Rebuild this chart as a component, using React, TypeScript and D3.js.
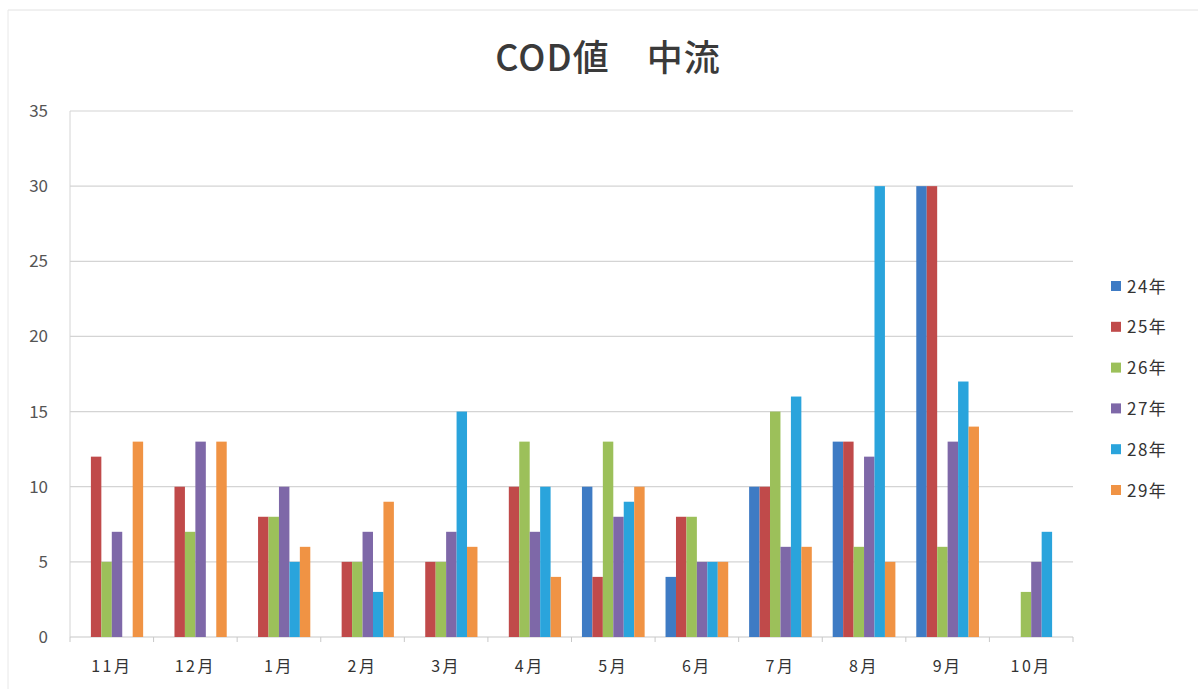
import React from "react";
import * as d3 from "d3";

const months = ["11月", "12月", "1月", "2月", "3月", "4月", "5月", "6月", "7月", "8月", "9月", "10月"];
const seriesNames = ["24年", "25年", "26年", "27年", "28年", "29年"];
const s24 = [0, 0, 0, 0, 0, 0, 10, 4, 10, 13, 30, 0];
const s25 = [12, 10, 8, 5, 5, 10, 4, 8, 10, 13, 30, 0];
const s26 = [5, 7, 8, 5, 5, 13, 13, 8, 15, 6, 6, 3];
const s27 = [7, 13, 10, 7, 7, 7, 8, 5, 6, 12, 13, 5];
const s28 = [0, 0, 5, 3, 15, 10, 9, 5, 16, 30, 17, 7];
const s29 = [13, 13, 6, 9, 6, 4, 10, 5, 6, 5, 14, 0];
const yTicks = [0, 5, 10, 15, 20, 25, 30, 35];
const colors = ["#3e7bc4", "#c04a4a", "#9cc05a", "#7e68a8", "#2aa4dc", "#f09344"];

const allSeries = [s24, s25, s26, s27, s28, s29];

export default function App() {
  const W = 1198, H = 689;
  const left = 70, right = 1073, top = 111, bottom = 637;
  const x0 = d3.scaleBand<string>().domain(months).range([left, right]).paddingInner(0).paddingOuter(0);
  const x1 = d3.scaleBand<string>().domain(seriesNames).range([0, x0.bandwidth()]).paddingInner(0).paddingOuter(1);
  const y = d3.scaleLinear().domain([0, 35]).range([bottom, top]);
  const font = "'Noto Sans CJK JP', 'Noto Sans', sans-serif";

  return (
    <svg width={W} height={H} style={{ position: "absolute", left: 0, top: 0, background: "#fff" }}>
      <rect x={0} y={0} width={W} height={H} fill="#fff" />
      <line x1={8} x2={W} y1={10} y2={10} stroke="#e2e2e2" />
      <line x1={8} x2={8} y1={10} y2={H} stroke="#e8e8e8" />
      <text x={608} y={71} textAnchor="middle" fontFamily={font} fontSize={36} fontWeight={500} fill="#3a3a3a" letterSpacing={1}>COD値　中流</text>
      {yTicks.map(t => (
        <g key={t}>
          <line x1={left} x2={right} y1={y(t)} y2={y(t)} stroke={t === 0 ? "#c8c8c8" : "#d4d4d4"} strokeWidth={1.2} />
          <text x={48} y={y(t) + 6} textAnchor="end" fontFamily={font} fontSize={17} fill="#555">{t}</text>
        </g>
      ))}
      <line x1={left} x2={left} y1={top} y2={bottom} stroke="#d4d4d4" />
      {months.map((m, i) => (
        <line key={"tk" + i} x1={x0(m)!} x2={x0(m)!} y1={bottom} y2={bottom + 5} stroke="#c8c8c8" />
      ))}
      <line x1={right} x2={right} y1={bottom} y2={bottom + 5} stroke="#c8c8c8" />
      {months.map((m, i) => (
        <g key={m}>
          {allSeries.map((s, j) => s[i] > 0 ? (
            <rect key={j} x={x0(m)! + x1(seriesNames[j])!} y={y(s[i])} width={x1.bandwidth()} height={bottom - y(s[i])} fill={colors[j]} />
          ) : null)}
          <text x={x0(m)! + x0.bandwidth() / 2} y={672} textAnchor="middle" fontFamily={font} fontSize={16} fill="#333" letterSpacing={2.5}>{m}</text>
        </g>
      ))}
      {seriesNames.map((n, j) => (
        <g key={n} transform={`translate(1111, ${286 + j * 40.8})`}>
          <rect x={0} y={-5} width={10} height={10} fill={colors[j]} />
          <text x={16} y={6.5} fontFamily={font} fontSize={17} fill="#333" letterSpacing={1.5}>{n}</text>
        </g>
      ))}
    </svg>
  );
}
